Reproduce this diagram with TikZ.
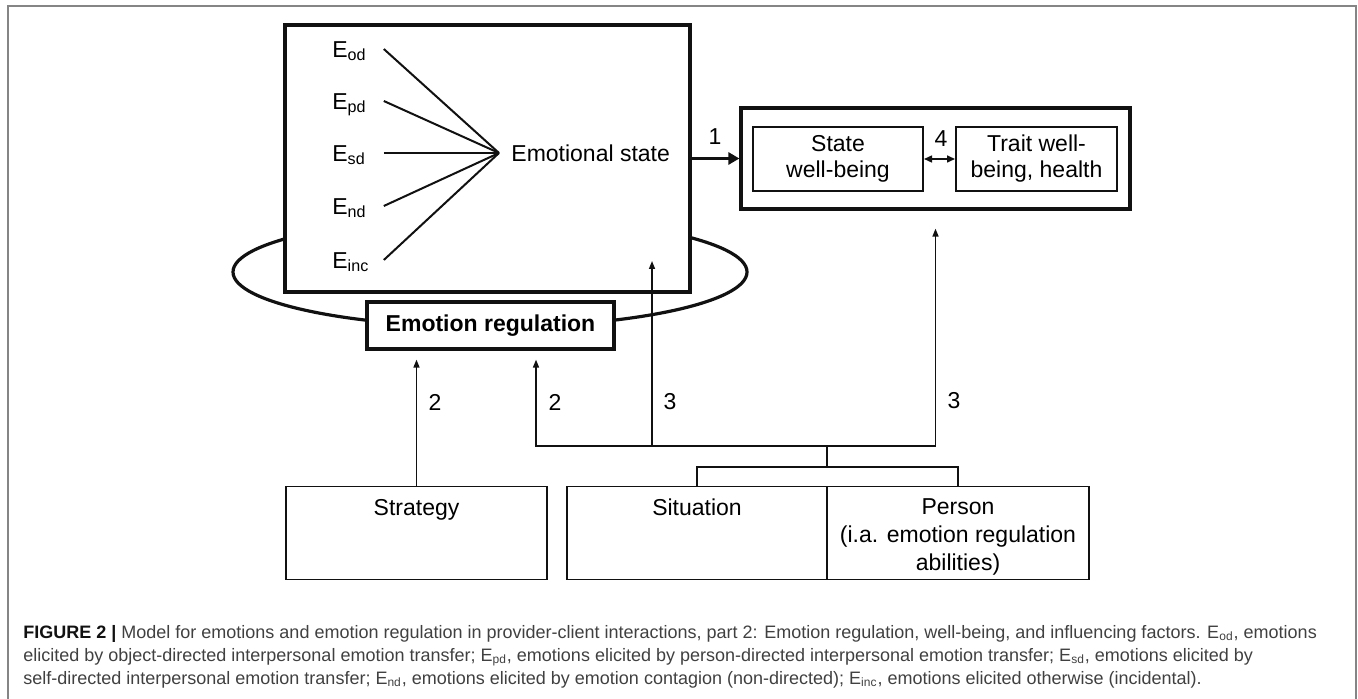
\documentclass[tikz,border=0pt]{standalone}
\usepackage{fontspec}
\setmainfont{Liberation Sans}
\usetikzlibrary{arrows.meta,positioning,fit}
\definecolor{f2ink}  {HTML}{111111}
\definecolor{f2frame}{HTML}{858585}
\definecolor{f2cap}  {HTML}{404040}
\newcommand{\fbig}{\fontsize{11.5}{13}\selectfont}
\newcommand{\fcap}{\fontsize{9}{11}\selectfont}
\tikzset{
  f2box/.style={draw=f2ink, fill=white, line width=1.6pt, inner sep=0pt},
  f2inner/.style={draw=f2ink, fill=white, line width=1pt, inner sep=0pt,
                  align=center, font=\fbig, minimum height=32pt},
  f2low/.style={draw=f2ink, line width=0.9pt, inner sep=0pt, minimum height=46.5pt},
  f2elab/.style={anchor=west, inner sep=0pt, text width=25.5pt, align=left,
                 text height=8.2pt, text depth=0pt, font=\fbig},
  f2ray/.style={draw=f2ink, line width=1pt},
  f2wire/.style={draw=f2ink, line width=0.75pt},
  f2arrow/.style={f2wire, -{Triangle[length=4pt,width=3pt]}},
  f2num/.style={font=\fbig, inner sep=0pt},
  f2cap/.style={anchor=base west, inner sep=0pt, font=\fcap, text=f2cap},
}

\begin{document}
\begin{tikzpicture}[x=0.5pt, y=-0.5pt]
  \useasboundingbox (0,0) rectangle (1358,699);
  \draw[f2frame, line width=0.8pt] (8,699) -- (8,6) -- (1356,6) -- (1356,699);
  % regulation loop, partly hidden by the boxes
  \draw[f2ink, line width=1.6pt] (490,272) ellipse [x radius=128.5pt, y radius=27.5pt];
  \node[f2box, fit={(285,25) (690,292)}] (emobox) {};
  \foreach \nm/\sub/\y in {e-od/od/49, e-pd/pd/101, e-sd/sd/153, e-nd/nd/206, e-inc/inc/260}
    { \node[f2elab] (\nm) at (332,\y) {E\textsubscript{\sub}}; }
  \node[font=\fbig, anchor=west, inner xsep=6pt, inner ysep=0pt] (emostate) at (499,153) {Emotional state};
  \foreach \nm in {e-od, e-pd, e-sd, e-nd, e-inc}
    { \draw[f2ray] (\nm.east) -- (emostate.west); }

  \node[f2box, fit={(741,108) (1130,209)}] (wellbox) {};
  \node[f2inner, minimum width=85pt] (statewb) at (838,159) {State\\well-being};
  \node[f2inner, minimum width=80.5pt] (traitwb) at (1036.5,159) {Trait well-\\being, health};
  \draw[f2ink, line width=1.5pt, -{Triangle[length=5.5pt,width=6pt]}] (emobox.east) -- (wellbox.west);
  \draw[f2wire, {Triangle[length=4pt,width=3.5pt]}-{Triangle[length=4pt,width=3.5pt]}] (statewb) -- (traitwb);

  \node[f2box, minimum width=123.5pt, minimum height=23.5pt, font=\fbig\bfseries] (regbox) at (490.5,325.5) {Emotion regulation};

  \node[f2low, minimum width=130.5pt] (strat) at (416.5,533) {};
  \node[f2low, minimum width=130.25pt] (situ) at (697,533) {};
  \node[f2low, minimum width=131pt] (pers) at (958,533) {};
  \node[f2num, anchor=north] (strat-txt) at ([yshift=-6.5pt]strat.north) {Strategy};
  \node[f2num, anchor=north] (situ-txt) at ([yshift=-6.5pt]situ.north) {Situation};
  \node[f2num, anchor=north, align=center, font=\fontsize{11.5}{14}\selectfont] (pers-txt)
    at ([yshift=-6.5pt]pers.north) {Person\\(i.a. emotion regulation\\abilities)};

  \coordinate (hub) at (827,446);
  \coordinate (split) at (827,467);
  \coordinate (inemo) at (652,261);
  \draw[f2wire] (situ.north) |- (split) -| (pers.north);
  \draw[f2wire] (split) -- (hub);
  \draw[f2arrow, shorten >=4.5pt] (strat.north) -- (strat.north |- regbox.south);
  \draw[f2arrow, shorten >=4.5pt] (hub) -| ([xshift=22.75pt]regbox.south);
  \draw[f2arrow] (hub -| inemo) -- (inemo);
  \draw[f2arrow, shorten >=9pt] (hub) -| (wellbox.south);

  \foreach \nm/\x/\y/\t in {n1/715/137/1, n4/941/139/4, n2a/435/402/2,
                            n2b/555/402/2, n3a/670/402/3, n3b/954/401/3}
    { \node[f2num] (\nm) at (\x,\y) {\t}; }

  \node[f2cap] (cap1) at (23,638) {\textbf{\color{f2ink}FIGURE 2 |} Model for emotions and emotion regulation in provider-client interactions, part 2: Emotion regulation, well-being, and influencing factors. E\textsubscript{od}, emotions};
  \node[f2cap] (cap2) at (23,661) {elicited by object-directed interpersonal emotion transfer; E\textsubscript{pd}, emotions elicited by person-directed interpersonal emotion transfer; E\textsubscript{sd}, emotions elicited by};
  \node[f2cap] (cap3) at (23,684) {self-directed interpersonal emotion transfer; E\textsubscript{nd}, emotions elicited by emotion contagion (non-directed); E\textsubscript{inc}, emotions elicited otherwise (incidental).};
\end{tikzpicture}
\end{document}
